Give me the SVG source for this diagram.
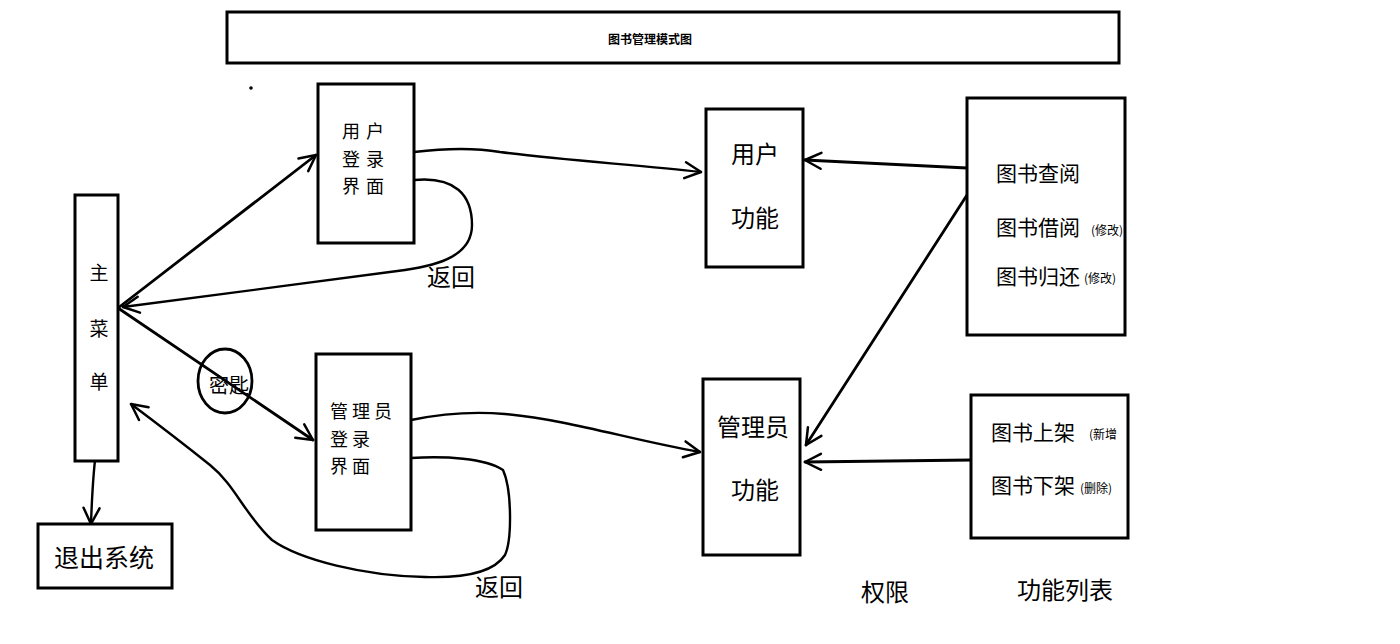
<svg xmlns="http://www.w3.org/2000/svg" width="1400" height="644" viewBox="0 0 1400 644">
<style>
.box{fill:#fff;stroke:#000;stroke-width:3}
.t{font-family:"Noto Sans CJK SC","Noto Sans",sans-serif;fill:#000;dominant-baseline:central}
.c{fill:none;stroke:#000;stroke-width:2.8;stroke-linecap:round;stroke-linejoin:round}
.cv{fill:none;stroke:#000;stroke-width:2.4;stroke-linecap:round;stroke-linejoin:round}
</style>
<defs>
<marker id="ah" viewBox="0 0 20 20" refX="18" refY="10" markerWidth="20" markerHeight="20" markerUnits="userSpaceOnUse" orient="auto">
<path d="M2,2 L18,10 L2,18" fill="none" stroke="#000" stroke-width="2.5" stroke-linecap="round" stroke-linejoin="round"/>
</marker>
</defs>
<rect width="1400" height="644" fill="#fff"/>

<g id="title">
<rect class="box" x="227" y="12" width="892" height="51"/>
<text class="t" x="650" y="38" font-size="12" font-weight="bold" text-anchor="middle">图书管理模式图</text>
</g>
<circle cx="251" cy="88" r="1.8" fill="#000"/>

<g id="connectors">
<path class="c" d="M118,308 L316,155" marker-end="url(#ah)"/>
<path class="cv" d="M414,180 C455,176 472,195 472,225 C472,255 440,265 405,270 C320,282 200,296 123,307" marker-end="url(#ah)"/>
<path class="c" d="M118,308 L313,440" marker-end="url(#ah)"/>
<path class="cv" d="M411,458 C445,456 485,458 503,470 C512,490 512,540 505,555 C492,575 455,578 425,577 C365,576 300,560 272,540 C245,515 235,485 210,465 C185,445 155,422 131,404" marker-end="url(#ah)"/>
<path class="cv" d="M414,152 C440,149 470,147 500,152 C560,160 640,165 701,172" marker-end="url(#ah)"/>
<path class="cv" d="M411,420 C440,414 470,411 505,414 C570,420 630,440 700,452" marker-end="url(#ah)"/>
<path class="c" d="M967,168 L805,160" marker-end="url(#ah)"/>
<path class="c" d="M967,195 L806,445" marker-end="url(#ah)"/>
<path class="c" d="M972,460 L805,462" marker-end="url(#ah)"/>
<path class="cv" d="M97,445 C93,470 92,495 91,524" marker-end="url(#ah)"/>
</g>

<g id="main-menu">
<rect class="box" x="75" y="195" width="43" height="266"/>
<text class="t" x="99" y="271" font-size="19" text-anchor="middle">主</text>
<text class="t" x="99" y="327" font-size="19" text-anchor="middle">菜</text>
<text class="t" x="99" y="380" font-size="19" text-anchor="middle">单</text>
</g>

<g id="exit">
<rect class="box" x="38" y="524" width="134" height="64"/>
<text class="t" x="104" y="556" font-size="25" text-anchor="middle">退出系统</text>
</g>

<g id="user-login">
<rect class="box" x="318" y="84" width="96" height="159"/>
<text class="t" x="342" y="130" font-size="18" letter-spacing="6">用户</text>
<text class="t" x="342" y="158" font-size="18" letter-spacing="6">登录</text>
<text class="t" x="342" y="185" font-size="18" letter-spacing="6">界面</text>
</g>

<g id="admin-login">
<rect class="box" x="316" y="354" width="95" height="176"/>
<text class="t" x="330" y="410" font-size="18" letter-spacing="4">管理员</text>
<text class="t" x="330" y="438" font-size="18" letter-spacing="4">登录</text>
<text class="t" x="330" y="465" font-size="18" letter-spacing="4">界面</text>
</g>

<g id="key">
<ellipse cx="225" cy="381" rx="27" ry="32" fill="none" stroke="#000" stroke-width="2.8"/>
<text class="t" x="229" y="384" font-size="20" text-anchor="middle">密匙</text>
</g>

<g id="user-func">
<rect class="box" x="706" y="109" width="97" height="158"/>
<text class="t" x="755" y="152" font-size="24" text-anchor="middle">用户</text>
<text class="t" x="755" y="216" font-size="24" text-anchor="middle">功能</text>
</g>

<g id="admin-func">
<rect class="box" x="703" y="379" width="97" height="176"/>
<text class="t" x="753" y="425" font-size="24" text-anchor="middle">管理员</text>
<text class="t" x="755" y="488" font-size="24" text-anchor="middle">功能</text>
</g>

<g id="user-list">
<rect class="box" x="967" y="98" width="158" height="237"/>
<text class="t" x="996" y="172" font-size="21">图书查阅</text>
<text class="t" x="996" y="226" font-size="21">图书借阅</text>
<text class="t" x="1091" y="229" font-size="12">(修改)</text>
<text class="t" x="996" y="275" font-size="21">图书归还</text>
<text class="t" x="1084" y="277" font-size="12">(修改)</text>
</g>

<g id="admin-list">
<rect class="box" x="971" y="395" width="157" height="143"/>
<text class="t" x="991" y="431" font-size="21">图书上架</text>
<text class="t" x="1089" y="433" font-size="12">(新增</text>
<text class="t" x="991" y="484" font-size="21">图书下架</text>
<text class="t" x="1080" y="487" font-size="12">(删除)</text>
</g>

<g id="labels">
<text class="t" x="451" y="275" font-size="24" text-anchor="middle">返回</text>
<text class="t" x="499" y="585" font-size="24" text-anchor="middle">返回</text>
<text class="t" x="885" y="590" font-size="24" text-anchor="middle">权限</text>
<text class="t" x="1065" y="588" font-size="24" text-anchor="middle">功能列表</text>
</g>
</svg>
